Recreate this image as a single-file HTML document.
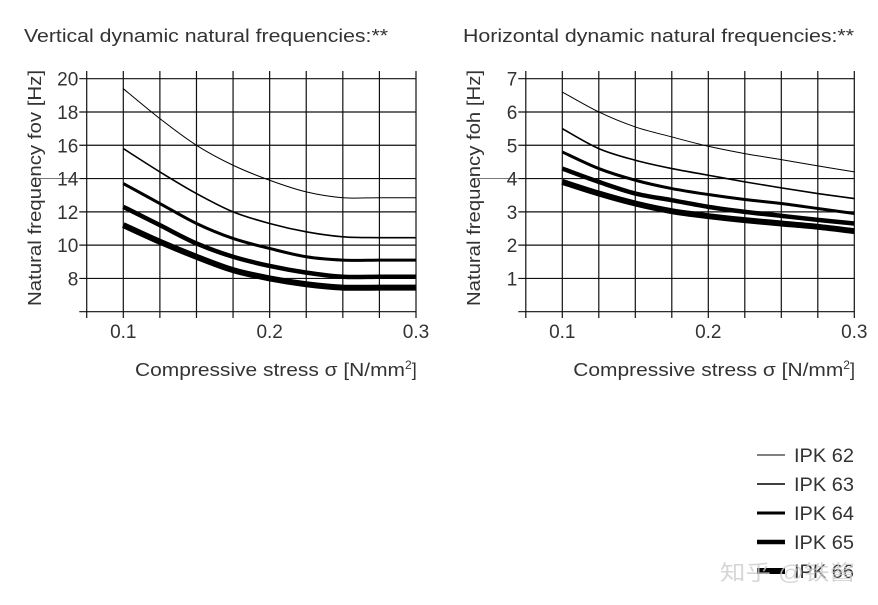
<!DOCTYPE html>
<html><head><meta charset="utf-8"><style>
body{margin:0;background:#fff;}
svg{display:block;font-family:"Liberation Sans","Noto Sans CJK SC",sans-serif;}
</style></head><body>
<svg id="c" width="878" height="605"></svg>
<script>
const xs=[0.1,0.125,0.15,0.175,0.2,0.225,0.25,0.275,0.3];
const series=["IPK 62","IPK 63","IPK 64","IPK 65","IPK 66"];
const vert62=[19.4,17.6,16.0,14.8,13.9,13.2,12.85,12.85,12.85];
const vert63=[15.8,14.4,13.1,12.0,11.3,10.8,10.5,10.45,10.45];
const vert64=[13.7,12.5,11.3,10.4,9.8,9.3,9.1,9.1,9.1];
const vert65=[12.3,11.2,10.1,9.3,8.75,8.35,8.1,8.1,8.1];
const vert66=[11.2,10.2,9.3,8.5,8.0,7.65,7.45,7.45,7.45];
const hor62=[6.6,6.0,5.55,5.25,4.97,4.75,4.57,4.38,4.2];
const hor63=[5.5,4.9,4.55,4.3,4.1,3.9,3.72,3.55,3.4];
const hor64=[4.8,4.3,3.95,3.7,3.52,3.37,3.25,3.1,2.95];
const hor65=[4.3,3.9,3.55,3.35,3.15,3.0,2.88,2.76,2.65];
const hor66=[3.9,3.55,3.25,3.02,2.87,2.75,2.65,2.55,2.42];
const xTicks=[0.1,0.2,0.3];
const vTicks=[8,10,12,14,16,18,20];
const hTicks=[1,2,3,4,5,6,7];
const widths=[1,1.6,3,4.5,6];
const NS="http://www.w3.org/2000/svg";
const svg=document.getElementById('c');
function el(t,a,p){const e=document.createElementNS(NS,t);for(const k in a)e.setAttribute(k,a[k]);(p||svg).appendChild(e);return e;}
function smooth(pts){let d='M'+pts[0][0]+','+pts[0][1];
  for(let i=0;i<pts.length-1;i++){const p0=pts[Math.max(0,i-1)],p1=pts[i],p2=pts[i+1],p3=pts[Math.min(pts.length-1,i+2)];
    const c1=[p1[0]+(p2[0]-p0[0])/6,p1[1]+(p2[1]-p0[1])/6],c2=[p2[0]-(p3[0]-p1[0])/6,p2[1]-(p3[1]-p1[1])/6];
    d+=` C${c1[0]},${c1[1]} ${c2[0]},${c2[1]} ${p2[0]},${p2[1]}`;}
  return d;}
function chart(o){
  const g=el('g',{});
  
  
  const X=v=>o.x0+(v-0.1)/0.2*(o.x1-o.x0);
  const Y=v=>o.yb-(v-o.ymin)/(o.ymax-o.ymin)*(o.yb-o.yt);
  for(let i=0;i<=9;i++){const v=0.075+i*0.025;const l=el('line',{x1:X(v),x2:X(v),y1:71,y2:318,stroke:'#111','stroke-width':1.2},g);}
  for(let v=o.ymin;v<=o.ymax+1e-9;v+=o.step){const l=el('line',{x1:o.x0-44,x2:o.x1,y1:Y(v),y2:Y(v),stroke:'#111','stroke-width':1.2},g);}
  el('line',{x1:o.x0-90,x2:o.x0-44,y1:Y(o.extra),y2:Y(o.extra),stroke:'#777','stroke-width':1},g);
  o.ticks.forEach(v=>{const t=el('text',{x:o.x0-45,y:Y(v)+7,'text-anchor':'end','font-size':19,fill:'#333'},g);t.textContent=v;});
  xTicks.forEach(v=>{const t=el('text',{x:X(v),y:338,'text-anchor':'middle','font-size':19,fill:'#333'},g);t.textContent=v;});
  o.data.forEach((d,i)=>{const p=el('path',{d:smooth(d.map((v,j)=>[X(xs[j]),Y(v)])),fill:'none',stroke:'#000','stroke-width':widths[i],'stroke-linejoin':'round'},g);});
  const tt=el('text',{x:o.tx,y:42,'font-size':18,fill:'#333',textLength:o.tw,lengthAdjust:'spacingAndGlyphs'},g);tt.textContent=o.title;
  const yt=el('text',{transform:`translate(${o.tx+17},${188}) rotate(-90)`,'text-anchor':'middle','font-size':18,fill:'#333',textLength:236,lengthAdjust:'spacingAndGlyphs'},g);yt.textContent=o.ylabel;
  const xt=el('text',{x:o.x1-281,y:376,'font-size':18,fill:'#333'},g);xt.innerHTML='<tspan textLength="270" lengthAdjust="spacingAndGlyphs">Compressive stress σ [N/mm</tspan><tspan dy="-7" font-size="12">2</tspan><tspan dy="7">]</tspan>';
}
chart({name:'vertical-chart',x0:123.3,x1:416,yb:311.7,yt:78.7,ymin:6,ymax:20,step:2,ticks:vTicks,extra:14,data:[vert62,vert63,vert64,vert65,vert66],tx:24,tw:364,title:'Vertical dynamic natural frequencies:**',ylabel:'Natural frequency fov [Hz]'});
chart({name:'horizontal-chart',x0:562.3,x1:854.3,yb:311.7,yt:78.7,ymin:0,ymax:7,step:1,ticks:hTicks,extra:4,data:[hor62,hor63,hor64,hor65,hor66],tx:463,tw:391,title:'Horizontal dynamic natural frequencies:**',ylabel:'Natural frequency foh [Hz]'});
series.forEach((s,i)=>{const y=455+i*29;
  const l=el('line',{x1:757,x2:785,y1:y,y2:y,stroke:'#000','stroke-width':widths[i]});
  const t=el('text',{x:794,y:y+7,'font-size':19,fill:'#333',textLength:60,lengthAdjust:'spacingAndGlyphs'});t.textContent=s;});
const w=el('text',{x:720,y:580,'font-size':21,fill:'#ccc','fill-opacity':0.8,textLength:135,lengthAdjust:'spacingAndGlyphs'});w.textContent='知乎 @铁酱';
</script>
</body></html>
